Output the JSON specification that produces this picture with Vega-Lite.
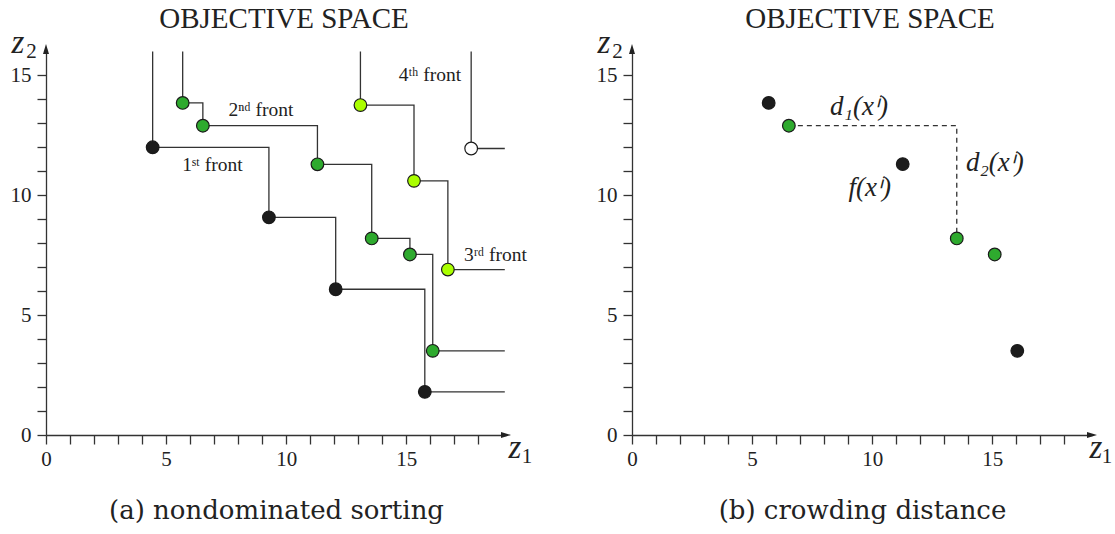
{
  "$schema": "https://vega.github.io/schema/vega-lite/v6.json",
  "padding": {"left": 10, "top": 5, "right": 0, "bottom": 5},
  "background": "white",
  "config": {
    "view": {"stroke": null},
    "font": "Liberation Serif",
    "text": {"font": "Liberation Serif"},
    "axis": {
      "grid": false,
      "domainColor": "#333333",
      "domainWidth": 1.3,
      "tickColor": "#333333",
      "tickWidth": 1.3,
      "tickSize": 9,
      "labelFont": "Liberation Serif",
      "labelFontSize": 21,
      "labelColor": "#222222",
      "labelFlush": false,
      "labelOverlap": false,
      "titleFont": "DejaVu Serif",
      "titleFontSize": 26,
      "titleFontWeight": "normal",
      "titleColor": "#222222"
    },
    "title": {"font": "Liberation Serif", "fontSize": 29, "fontWeight": "normal", "color": "#222222", "anchor": "middle", "frame": "group", "offset": -7, "dx": 8}
  },
  "datasets": {
    "fronts": [
      {"front": "1", "z1": 4.44, "z2": 12.0},
      {"front": "1", "z1": 9.28, "z2": 9.08},
      {"front": "1", "z1": 12.06, "z2": 6.08},
      {"front": "1", "z1": 15.77, "z2": 1.8},
      {"front": "2", "z1": 5.69, "z2": 13.85},
      {"front": "2", "z1": 6.53, "z2": 12.9},
      {"front": "2", "z1": 11.3, "z2": 11.29},
      {"front": "2", "z1": 13.56, "z2": 8.2},
      {"front": "2", "z1": 15.15, "z2": 7.53},
      {"front": "2", "z1": 16.1, "z2": 3.51},
      {"front": "3", "z1": 13.09, "z2": 13.76},
      {"front": "3", "z1": 15.32, "z2": 10.6},
      {"front": "3", "z1": 16.73, "z2": 6.9},
      {"front": "4", "z1": 17.7, "z2": 11.95}
    ],
    "steps": [
      {"front": "1", "i": 0, "z1": 4.44, "z2": 16.0},
      {"front": "1", "i": 1, "z1": 4.44, "z2": 12.0},
      {"front": "1", "i": 2, "z1": 9.28, "z2": 9.08},
      {"front": "1", "i": 3, "z1": 12.06, "z2": 6.08},
      {"front": "1", "i": 4, "z1": 15.77, "z2": 1.8},
      {"front": "1", "i": 5, "z1": 19.1, "z2": 1.8},
      {"front": "2", "i": 0, "z1": 5.69, "z2": 16.0},
      {"front": "2", "i": 1, "z1": 5.69, "z2": 13.85},
      {"front": "2", "i": 2, "z1": 6.53, "z2": 12.9},
      {"front": "2", "i": 3, "z1": 11.3, "z2": 11.29},
      {"front": "2", "i": 4, "z1": 13.56, "z2": 8.2},
      {"front": "2", "i": 5, "z1": 15.15, "z2": 7.53},
      {"front": "2", "i": 6, "z1": 16.1, "z2": 3.51},
      {"front": "2", "i": 7, "z1": 19.1, "z2": 3.51},
      {"front": "3", "i": 0, "z1": 13.09, "z2": 16.0},
      {"front": "3", "i": 1, "z1": 13.09, "z2": 13.76},
      {"front": "3", "i": 2, "z1": 15.32, "z2": 10.6},
      {"front": "3", "i": 3, "z1": 16.73, "z2": 6.9},
      {"front": "3", "i": 4, "z1": 19.1, "z2": 6.9},
      {"front": "4", "i": 0, "z1": 17.7, "z2": 16.0},
      {"front": "4", "i": 1, "z1": 17.7, "z2": 11.95},
      {"front": "4", "i": 2, "z1": 19.1, "z2": 11.95}
    ],
    "frontLabels": [
      {"label": "1ˢᵗ front", "z1": 5.67, "z2": 11.25},
      {"label": "2ⁿᵈ front", "z1": 7.6, "z2": 13.55},
      {"label": "3ʳᵈ front", "z1": 17.4, "z2": 7.5},
      {"label": "4ᵗʰ front", "z1": 14.68, "z2": 15.0}
    ],
    "corner": [{"z1": 0, "z2": 16.1}],
    "xend": [{"z1": 19.15, "z2": 0}],
    "crowd": [
      {"kind": "1", "z1": 5.69, "z2": 13.85},
      {"kind": "2", "z1": 6.53, "z2": 12.9},
      {"kind": "1", "z1": 11.27, "z2": 11.3},
      {"kind": "2", "z1": 13.52, "z2": 8.2},
      {"kind": "2", "z1": 15.1, "z2": 7.53},
      {"kind": "1", "z1": 16.04, "z2": 3.51}
    ],
    "dash": [
      {"i": 0, "z1": 6.53, "z2": 12.9},
      {"i": 1, "z1": 13.52, "z2": 12.9},
      {"i": 2, "z1": 13.52, "z2": 8.2}
    ],
    "mathLabels": [
      {"label": "d₁(xⁱ)", "z1": 9.45, "z2": 13.68, "a": "center"},
      {"label": "d₂(xⁱ)", "z1": 13.9, "z2": 11.33, "a": "left"},
      {"label": "f(xⁱ)", "z1": 9.9, "z2": 10.3, "a": "center"}
    ]
  },
  "spacing": 63,
  "hconcat": [
    {
      "width": 460,
      "height": 386,
      "title": {"text": "OBJECTIVE SPACE"},
      "encoding": {
        "x": {"field": "z1", "type": "quantitative", "scale": {"domain": [0, 19.15], "nice": false, "zero": false},
          "axis": {"values": [0,1,2,3,4,5,6,7,8,9,10,11,12,13,14,15,16,17,18], "labelExpr": "datum.value % 5 === 0 ? datum.label : ''", "labelOverlap": false, "labelPadding": 4, "title": "(a) nondominated sorting", "titlePadding": 28}},
        "y": {"field": "z2", "type": "quantitative", "scale": {"domain": [0, 16.1], "nice": false, "zero": false},
          "axis": {"values": [0,1,2,3,4,5,6,7,8,9,10,11,12,13,14,15], "labelExpr": "datum.value % 5 === 0 ? datum.label : ''", "labelOverlap": false, "labelPadding": 6, "title": null}}
      },
      "layer": [
        {
          "data": {"name": "steps"},
          "mark": {"type": "line", "interpolate": "step-after", "color": "#333333", "strokeWidth": 1.3},
          "encoding": {
            "detail": {"field": "front"},
            "order": {"field": "i", "type": "quantitative"}
          }
        },
        {
          "data": {"name": "fronts"},
          "mark": {"type": "point", "filled": true, "size": 160, "stroke": "#1a1a1a", "strokeWidth": 1.2, "opacity": 1},
          "encoding": {
            "fill": {"field": "front", "type": "nominal", "scale": {"domain": ["1", "2", "3", "4"], "range": ["#1c1c1c", "#2eaa2e", "#aaff00", "#ffffff"]}, "legend": null}
          }
        },
        {
          "data": {"name": "frontLabels"},
          "mark": {"type": "text", "font": "Liberation Serif", "align": "left", "baseline": "middle", "fontSize": 19.5, "color": "#222222"},
          "encoding": {"text": {"field": "label"}}
        },
        {
          "data": {"name": "corner"},
          "mark": {"type": "point", "shape": "M0,-1L-0.6,1L0.6,1Z", "filled": true, "size": 100, "color": "#222222", "opacity": 1},
          "encoding": {}
        },
        {
          "data": {"name": "xend"},
          "mark": {"type": "point", "shape": "M1,0L-1,-0.6L-1,0.6Z", "filled": true, "size": 100, "color": "#222222", "opacity": 1},
          "encoding": {}
        },
        {
          "data": {"name": "corner"},
          "mark": {"type": "text", "text": "z", "font": "Liberation Serif", "fontStyle": "italic", "fontSize": 33, "align": "center", "baseline": "alphabetic", "dx": -28, "dy": 4, "color": "#222222"},
          "encoding": {}
        },
        {
          "data": {"name": "corner"},
          "mark": {"type": "text", "text": "2", "font": "Liberation Serif", "fontSize": 21, "align": "center", "baseline": "alphabetic", "dx": -14.5, "dy": 9, "color": "#222222"},
          "encoding": {}
        },
        {
          "data": {"name": "xend"},
          "mark": {"type": "text", "text": "z", "font": "Liberation Serif", "fontStyle": "italic", "fontSize": 33, "align": "center", "baseline": "alphabetic", "dx": 9, "dy": 23, "color": "#222222"},
          "encoding": {}
        },
        {
          "data": {"name": "xend"},
          "mark": {"type": "text", "text": "1", "font": "Liberation Serif", "fontSize": 21, "align": "center", "baseline": "alphabetic", "dx": 21, "dy": 28, "color": "#222222"},
          "encoding": {}
        }
      ]
    },
    {
      "width": 460,
      "height": 386,
      "title": {"text": "OBJECTIVE SPACE"},
      "encoding": {
        "x": {"field": "z1", "type": "quantitative", "scale": {"domain": [0, 19.15], "nice": false, "zero": false},
          "axis": {"values": [0,1,2,3,4,5,6,7,8,9,10,11,12,13,14,15,16,17,18], "labelExpr": "datum.value % 5 === 0 ? datum.label : ''", "labelOverlap": false, "labelPadding": 4, "title": "(b) crowding distance", "titlePadding": 28}},
        "y": {"field": "z2", "type": "quantitative", "scale": {"domain": [0, 16.1], "nice": false, "zero": false},
          "axis": {"values": [0,1,2,3,4,5,6,7,8,9,10,11,12,13,14,15], "labelExpr": "datum.value % 5 === 0 ? datum.label : ''", "labelOverlap": false, "labelPadding": 6, "title": null}}
      },
      "layer": [
        {
          "data": {"name": "dash"},
          "mark": {"type": "line", "color": "#333333", "strokeWidth": 1.3, "strokeDash": [5, 4]},
          "encoding": {"order": {"field": "i", "type": "quantitative"}}
        },
        {
          "data": {"name": "crowd"},
          "mark": {"type": "point", "filled": true, "size": 160, "stroke": "#1a1a1a", "strokeWidth": 1.2, "opacity": 1},
          "encoding": {
            "fill": {"field": "kind", "type": "nominal", "scale": {"domain": ["1", "2"], "range": ["#1c1c1c", "#2eaa2e"]}, "legend": null}
          }
        },
        {
          "data": {"name": "mathLabels"},
          "transform": [{"filter": "datum.a === 'center'"}],
          "mark": {"type": "text", "font": "Liberation Serif", "align": "center", "baseline": "middle", "fontSize": 27, "fontStyle": "italic", "color": "#222222"},
          "encoding": {"text": {"field": "label"}}
        },
        {
          "data": {"name": "mathLabels"},
          "transform": [{"filter": "datum.a === 'left'"}],
          "mark": {"type": "text", "font": "Liberation Serif", "align": "left", "baseline": "middle", "fontSize": 27, "fontStyle": "italic", "color": "#222222"},
          "encoding": {"text": {"field": "label"}}
        },
        {
          "data": {"name": "corner"},
          "mark": {"type": "point", "shape": "M0,-1L-0.6,1L0.6,1Z", "filled": true, "size": 100, "color": "#222222", "opacity": 1},
          "encoding": {}
        },
        {
          "data": {"name": "xend"},
          "mark": {"type": "point", "shape": "M1,0L-1,-0.6L-1,0.6Z", "filled": true, "size": 100, "color": "#222222", "opacity": 1},
          "encoding": {}
        },
        {
          "data": {"name": "corner"},
          "mark": {"type": "text", "text": "z", "font": "Liberation Serif", "fontStyle": "italic", "fontSize": 33, "align": "center", "baseline": "alphabetic", "dx": -28, "dy": 4, "color": "#222222"},
          "encoding": {}
        },
        {
          "data": {"name": "corner"},
          "mark": {"type": "text", "text": "2", "font": "Liberation Serif", "fontSize": 21, "align": "center", "baseline": "alphabetic", "dx": -14.5, "dy": 9, "color": "#222222"},
          "encoding": {}
        },
        {
          "data": {"name": "xend"},
          "mark": {"type": "text", "text": "z", "font": "Liberation Serif", "fontStyle": "italic", "fontSize": 33, "align": "center", "baseline": "alphabetic", "dx": 4, "dy": 23, "color": "#222222"},
          "encoding": {}
        },
        {
          "data": {"name": "xend"},
          "mark": {"type": "text", "text": "1", "font": "Liberation Serif", "fontSize": 21, "align": "center", "baseline": "alphabetic", "dx": 15, "dy": 28, "color": "#222222"},
          "encoding": {}
        }
      ]
    }
  ]
}
